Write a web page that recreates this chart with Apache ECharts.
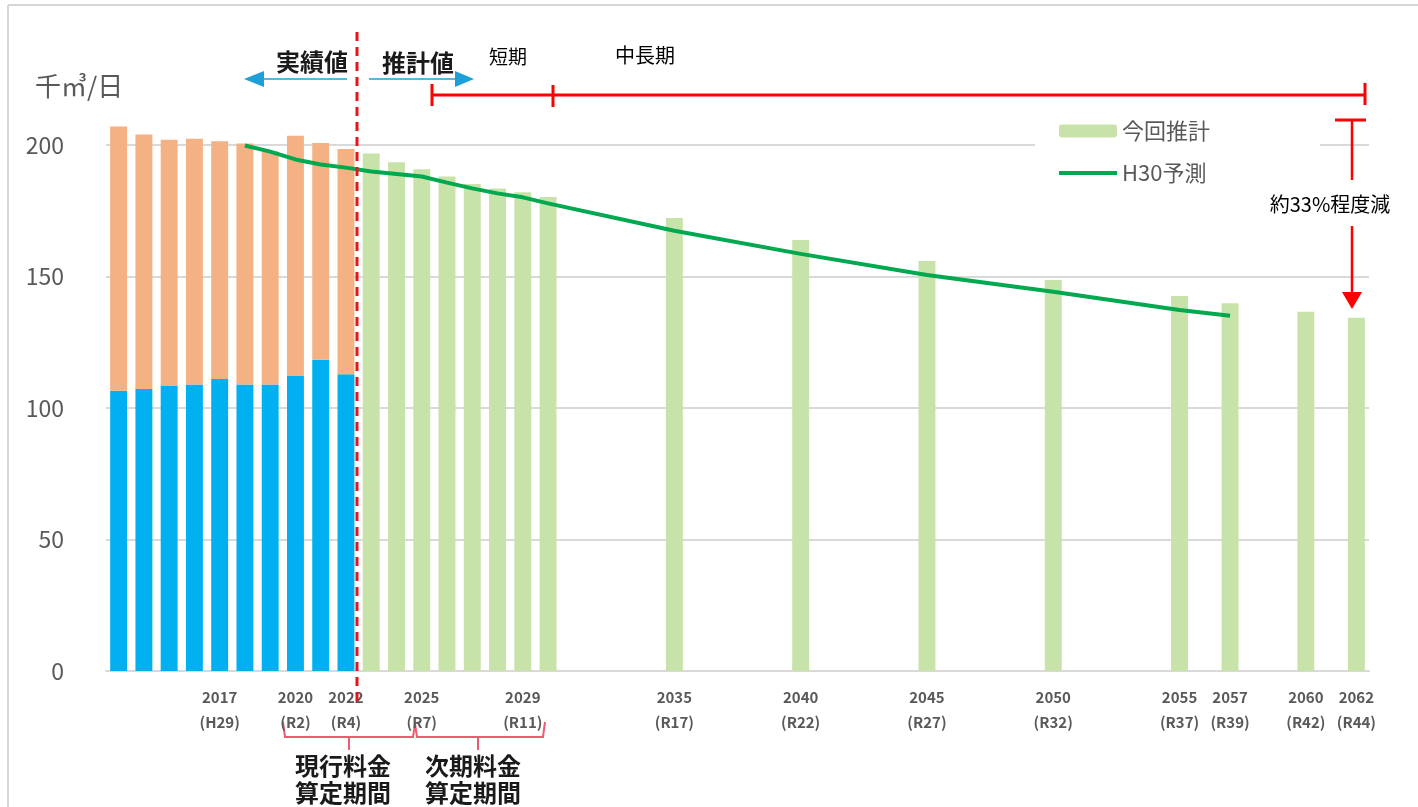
<!DOCTYPE html>
<html>
<head>
<meta charset="utf-8">
<title>水需要推計</title>
<script src="https://cdn.jsdelivr.net/npm/echarts@6.0.0/dist/echarts.min.js"></script>
<style>
  html, body { margin: 0; padding: 0; background: #fff; }
  #chart { width: 1418px; height: 807px; }
</style>
</head>
<body>
<div id="chart"></div>
<script>
// 年度（2013〜2062）
var firstYear = 2013
var lastYear = 2062

// 実績値（2013〜2022）
var actualYears = [2013, 2014, 2015, 2016, 2017, 2018, 2019, 2020, 2021, 2022]
var blueValues = [106.6, 107.2, 108.4, 108.9, 111.0, 108.9, 108.9, 112.2, 118.3, 112.8]
var orangeValues = [100.4, 96.8, 93.6, 93.5, 90.4, 91.7, 88.6, 91.3, 82.5, 85.7]

// 今回推計
var estYears = [2023, 2024, 2025, 2026, 2027, 2028, 2029, 2030, 2035, 2040, 2045, 2050, 2055, 2057, 2060, 2062]
var estValues = [196.8, 193.4, 190.8, 188.0, 185.2, 183.5, 182.0, 180.2, 172.2, 163.9, 155.9, 148.7, 142.6, 139.8, 136.6, 134.3]

// H30予測
var h30Years = [2018, 2019, 2020, 2021, 2022, 2023, 2024, 2025, 2026, 2027, 2028, 2029, 2030, 2035, 2040, 2045, 2050, 2055, 2057]
var h30Values = [199.8, 197.5, 194.5, 192.6, 191.4, 189.9, 189.0, 188.0, 185.7, 183.5, 181.6, 180.1, 177.8, 167.4, 158.6, 150.6, 144.2, 137.3, 135.1]

// 軸ラベル（和暦）
var tickLabels = {
  2017: '(H29)', 2020: '(R2)', 2022: '(R4)', 2025: '(R7)', 2029: '(R11)',
  2035: '(R17)', 2040: '(R22)', 2045: '(R27)', 2050: '(R32)',
  2055: '(R37)', 2057: '(R39)', 2060: '(R42)', 2062: '(R44)'
}

var years = []
for (var y = firstYear; y <= lastYear; y++) years.push(String(y))

function byYear(ys, vs) {
  var m = {}
  ys.forEach(function (yr, i) { m[yr] = vs[i] })
  return years.map(function (yr) { return m[yr] === undefined ? null : m[yr] })
}

var FONT = '"Noto Sans CJK JP", "Noto Sans", sans-serif'
var RED = '#ff0000'
var BLUE_ARROW = '#1e9fd8'
var BRACKET = '#ee5a6e'
var LINE_GREEN = '#00a84f'

function label(x, y, text, size, bold) {
  return {
    type: 'text', z: 10, x: x, y: y,
    style: {
      text: text, fontSize: size, fontWeight: bold ? 'bold' : 'normal',
      fill: bold ? '#1a1a1a' : '#000', align: 'center', verticalAlign: 'middle', fontFamily: FONT
    }
  }
}

var chart = echarts.init(document.getElementById('chart'))

chart.setOption({
  animation: false,
  backgroundColor: '#fff',
  textStyle: { fontFamily: FONT },
  grid: { left: 106, right: 49, top: 13.5, bottom: 136 },
  legend: {
    data: [
      { name: '今回推計' },
      { name: 'H30予測', itemStyle: { opacity: 0 }, lineStyle: { color: LINE_GREEN, width: 4 } }
    ],
    orient: 'vertical',
    left: 1035,
    top: 106,
    padding: [14, 110, 14, 22],
    backgroundColor: '#fff',
    itemWidth: 58,
    itemHeight: 13,
    itemGap: 20,
    textStyle: { fontSize: 22, color: '#595959', fontFamily: FONT }
  },
  xAxis: {
    type: 'category',
    data: years,
    boundaryGap: true,
    axisLine: { lineStyle: { color: '#d9d9d9', width: 2 } },
    axisTick: { show: false },
    axisLabel: {
      interval: 0,
      margin: 14,
      color: '#595959',
      fontSize: 15,
      fontWeight: 'bold',
      lineHeight: 25,
      fontFamily: FONT,
      formatter: function (v) {
        return tickLabels[v] ? v + '\n' + tickLabels[v] : ''
      }
    }
  },
  yAxis: {
    type: 'value',
    min: 0,
    max: 250,
    interval: 50,
    axisLine: { show: false },
    axisTick: { show: false },
    axisLabel: {
      margin: 42,
      color: '#595959',
      fontSize: 23,
      fontFamily: FONT,
      showMaxLabel: false
    },
    splitLine: {
      showMaxLine: false,
      lineStyle: { color: '#d9d9d9', width: 2 }
    }
  },
  series: [
    {
      name: '実績(青)',
      type: 'bar',
      stack: 'total',
      barCategoryGap: '33%',
      itemStyle: { color: '#00b0f0' },
      data: byYear(actualYears, blueValues)
    },
    {
      name: '実績(橙)',
      type: 'bar',
      stack: 'total',
      itemStyle: { color: '#f4b183' },
      data: byYear(actualYears, orangeValues)
    },
    {
      name: '今回推計',
      type: 'bar',
      stack: 'total',
      itemStyle: { color: '#c7e3a9' },
      data: byYear(estYears, estValues)
    },
    {
      name: 'H30予測',
      type: 'line',
      z: 5,
      symbol: 'none',
      connectNulls: true,
      itemStyle: { color: LINE_GREEN },
      lineStyle: { color: LINE_GREEN, width: 4 },
      data: byYear(h30Years, h30Values)
    }
  ],
  graphic: [
    // 枠線
    { type: 'line', shape: { x1: 8, y1: 5, x2: 1418, y2: 5 }, style: { stroke: '#d6d6d6', lineWidth: 2 } },
    { type: 'line', shape: { x1: 8, y1: 5, x2: 8, y2: 807 }, style: { stroke: '#d6d6d6', lineWidth: 2 } },
    // 単位
    { type: 'text', left: 35, top: 73, style: { text: '千㎥/日', fontSize: 26, fill: '#595959', fontFamily: FONT } },
    // 実績値 / 推計値
    label(312, 62, '実績値', 24, true),
    label(418, 63, '推計値', 24, true),
    { type: 'line', shape: { x1: 262, y1: 79, x2: 347, y2: 79 }, style: { stroke: BLUE_ARROW, lineWidth: 1.5 } },
    { type: 'polygon', shape: { points: [[244, 79], [264, 71], [264, 87]] }, style: { fill: BLUE_ARROW } },
    { type: 'line', shape: { x1: 369, y1: 79, x2: 457, y2: 79 }, style: { stroke: BLUE_ARROW, lineWidth: 1.5 } },
    { type: 'polygon', shape: { points: [[474, 79], [455, 71], [455, 87]] }, style: { fill: BLUE_ARROW } },
    // 境界（赤破線）
    { type: 'line', z: 10, shape: { x1: 357, y1: 32, x2: 357, y2: 703 }, style: { stroke: '#e8141c', lineWidth: 3, lineDash: [9, 6] } },
    // 短期 / 中長期
    label(508, 57, '短期', 19),
    label(645, 55, '中長期', 20),
    { type: 'line', shape: { x1: 432, y1: 95, x2: 1365, y2: 95 }, style: { stroke: RED, lineWidth: 3 } },
    { type: 'line', shape: { x1: 432, y1: 84, x2: 432, y2: 106 }, style: { stroke: RED, lineWidth: 3 } },
    { type: 'line', shape: { x1: 553, y1: 85, x2: 553, y2: 107 }, style: { stroke: RED, lineWidth: 3 } },
    { type: 'line', shape: { x1: 1365, y1: 83, x2: 1365, y2: 105 }, style: { stroke: RED, lineWidth: 3 } },
    // 約33%程度減
    { type: 'line', z: 10, shape: { x1: 1335, y1: 120, x2: 1366, y2: 120 }, style: { stroke: RED, lineWidth: 3 } },
    { type: 'line', z: 10, shape: { x1: 1352, y1: 120, x2: 1352, y2: 180 }, style: { stroke: RED, lineWidth: 2.5 } },
    label(1330, 204, '約33%程度減', 20),
    { type: 'line', z: 10, shape: { x1: 1352, y1: 226, x2: 1352, y2: 295 }, style: { stroke: RED, lineWidth: 2.5 } },
    { type: 'polygon', z: 10, shape: { points: [[1342, 292], [1362, 292], [1352, 309]] }, style: { fill: RED } },
    // 料金算定期間
    { type: 'polyline', shape: { points: [[283, 722], [285, 737], [413, 737], [415, 724]] }, style: { stroke: BRACKET, lineWidth: 2, fill: null } },
    { type: 'polyline', shape: { points: [[415, 724], [417, 737], [543, 737], [545, 722]] }, style: { stroke: BRACKET, lineWidth: 2, fill: null } },
    { type: 'line', shape: { x1: 349, y1: 737, x2: 349, y2: 750 }, style: { stroke: BRACKET, lineWidth: 2 } },
    { type: 'line', shape: { x1: 478, y1: 737, x2: 478, y2: 750 }, style: { stroke: BRACKET, lineWidth: 2 } },
    label(343, 766, '現行料金', 24, true),
    label(343, 793, '算定期間', 24, true),
    label(473, 766, '次期料金', 24, true),
    label(473, 793, '算定期間', 24, true)
  ]
})
</script>
</body>
</html>
